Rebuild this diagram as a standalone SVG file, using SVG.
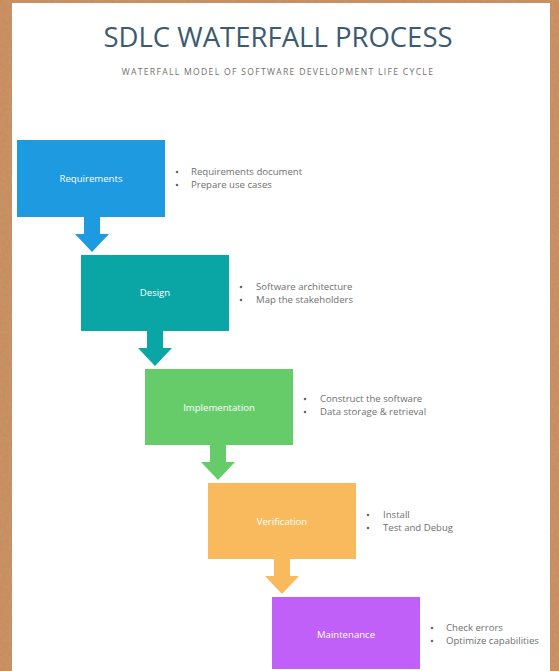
<svg xmlns="http://www.w3.org/2000/svg" width="559" height="671" viewBox="0 0 559 671">
  <defs>
    <filter id="cork" x="0" y="0" width="100%" height="100%">
      <feTurbulence type="fractalNoise" baseFrequency="0.35" numOctaves="2" seed="4" result="n"/>
      <feColorMatrix in="n" type="matrix" values="0 0 0 0 0.55  0 0 0 0 0.33  0 0 0 0 0.18  0 0 0 0.9 -0.25" result="c"/>
      <feComposite in="c" in2="SourceGraphic" operator="in"/>
    </filter>
    <style>
      .box-label { font-family: "Open Sans", "Liberation Sans", sans-serif; font-size: 9.6px; fill: #ffffff; text-anchor: middle; }
      .bullet { font-family: "Open Sans", "Liberation Sans", sans-serif; font-size: 9.6px; fill: #707070; }
      .dot { fill: #6a6a6a; }
    </style>
  </defs>

  <!-- cork background -->
  <rect x="0" y="0" width="559" height="671" fill="#C98D5E"/>
  <rect x="0" y="0" width="559" height="671" fill="#C98D5E" filter="url(#cork)"/>

  <!-- white card -->
  <rect x="12" y="3" width="538" height="668" fill="#ffffff"/>

  <!-- title -->
  <text x="278" y="47" font-family="'Open Sans', 'Liberation Sans', sans-serif" font-size="27.5" fill="#3B5B72" text-anchor="middle">SDLC WATERFALL PROCESS</text>
  <text x="278" y="75" font-family="'Open Sans', 'Liberation Sans', sans-serif" font-size="8.6" letter-spacing="1.3" fill="#6f6f6f" text-anchor="middle">WATERFALL MODEL OF SOFTWARE DEVELOPMENT LIFE CYCLE</text>

  <!-- connectors -->
  <g id="connectors">
    <polygon points="84,216 100,216 100,234 109,234 92,252 75,234 84,234" fill="#1E9BE0"/>
    <polygon points="147,330 163,330 163,348 172,348 155,366 138,348 147,348" fill="#0AA6A6"/>
    <polygon points="210,444 226,444 226,462 235,462 218,480 201,462 210,462" fill="#66CC6A"/>
    <polygon points="274,558 290,558 290,576 299,576 282,594 265,576 274,576" fill="#F8BA5C"/>
  </g>

  <g id="requirements">
    <rect x="17" y="140" width="148" height="77" fill="#1E9BE0"/>
    <text class="box-label" x="91" y="182">Requirements</text>
    <circle class="dot" cx="177" cy="172" r="1.3"/>
    <circle class="dot" cx="177" cy="185" r="1.3"/>
    <text class="bullet" x="191" y="175">Requirements document</text>
    <text class="bullet" x="191" y="188">Prepare use cases</text>
  </g>

  <g id="design">
    <rect x="81" y="255" width="148" height="76" fill="#0AA6A6"/>
    <text class="box-label" x="155" y="296">Design</text>
    <circle class="dot" cx="241" cy="287" r="1.3"/>
    <circle class="dot" cx="241" cy="300" r="1.3"/>
    <text class="bullet" x="256" y="290">Software architecture</text>
    <text class="bullet" x="256" y="303">Map the stakeholders</text>
  </g>

  <g id="implementation">
    <rect x="145" y="369" width="148" height="76" fill="#66CC6A"/>
    <text class="box-label" x="219" y="411">Implementation</text>
    <circle class="dot" cx="305" cy="399" r="1.3"/>
    <circle class="dot" cx="305" cy="412" r="1.3"/>
    <text class="bullet" x="320" y="402">Construct the software</text>
    <text class="bullet" x="320" y="415">Data storage &amp; retrieval</text>
  </g>

  <g id="verification">
    <rect x="208" y="483" width="148" height="76" fill="#F8BA5C"/>
    <text class="box-label" x="282" y="525">Verification</text>
    <circle class="dot" cx="368" cy="515" r="1.3"/>
    <circle class="dot" cx="368" cy="528" r="1.3"/>
    <text class="bullet" x="383" y="518">Install</text>
    <text class="bullet" x="383" y="531">Test and Debug</text>
  </g>

  <g id="maintenance">
    <rect x="272" y="597" width="148" height="72" fill="#C060F8"/>
    <text class="box-label" x="346" y="638">Maintenance</text>
    <circle class="dot" cx="432" cy="628" r="1.3"/>
    <circle class="dot" cx="432" cy="641" r="1.3"/>
    <text class="bullet" x="446" y="631">Check errors</text>
    <text class="bullet" x="446" y="644">Optimize capabilities</text>
  </g>
</svg>
